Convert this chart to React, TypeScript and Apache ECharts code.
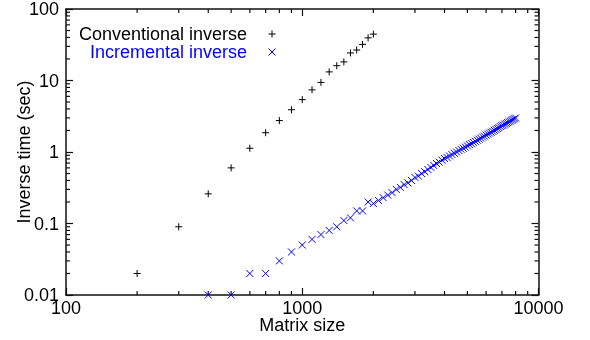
import React, { useEffect, useRef } from "react";
import * as echarts from "echarts";

const convSizes = [200, 300, 400, 500, 600, 700, 800, 900, 1000, 1100, 1200, 1300, 1400, 1500, 1600, 1700, 1800, 1900, 2000];
const convTimes = [0.02, 0.09, 0.26, 0.6, 1.13, 1.86, 2.75, 3.9, 5.4, 7.4, 9.4, 13.2, 16.1, 18.2, 24.3, 26.7, 32, 39.5, 44.5];

const incSizes = [
  400, 500, 600, 700, 800, 900, 1000, 1100, 1200, 1300, 1400, 1500, 1600, 1700, 1800, 1900,
  2000, 2100, 2200, 2300, 2400, 2500, 2600, 2700, 2800, 2900,
  3000, 3100, 3200, 3300, 3400, 3500, 3600, 3700, 3800, 3900,
  4000, 4100, 4200, 4300, 4400, 4500, 4600, 4700, 4800, 4900,
  5000, 5100, 5200, 5300, 5400, 5500, 5600, 5700, 5800, 5900,
  6000, 6100, 6200, 6300, 6400, 6500, 6600, 6700, 6800, 6900,
  7000, 7100, 7200, 7300, 7400, 7500, 7600, 7700, 7800, 7900, 8000,
];
const incTimes = [
  0.01, 0.01, 0.02, 0.02, 0.03, 0.04, 0.05, 0.06, 0.07, 0.08, 0.09, 0.11, 0.12, 0.15, 0.15, 0.2,
  0.19, 0.21, 0.23, 0.25, 0.27, 0.3, 0.32, 0.35, 0.37, 0.4,
  0.44, 0.46, 0.5, 0.53, 0.57, 0.61, 0.65, 0.69, 0.72, 0.77,
  0.81, 0.84, 0.88, 0.92, 0.96, 1.0, 1.05, 1.09, 1.13, 1.17,
  1.22, 1.27, 1.31, 1.36, 1.41, 1.46, 1.51, 1.56, 1.62, 1.67,
  1.73, 1.78, 1.84, 1.89, 1.95, 2.01, 2.07, 2.13, 2.19, 2.26,
  2.33, 2.38, 2.45, 2.51, 2.58, 2.65, 2.71, 2.78, 2.85, 2.92, 2.99,
];

const xMinorTicks = [200, 300, 400, 500, 600, 700, 800, 900, 2000, 3000, 4000, 5000, 6000, 7000, 8000, 9000];
const yMinorTicks = [
  0.02, 0.03, 0.04, 0.05, 0.06, 0.07, 0.08, 0.09,
  0.2, 0.3, 0.4, 0.5, 0.6, 0.7, 0.8, 0.9,
  2, 3, 4, 5, 6, 7, 8, 9,
  20, 30, 40, 50, 60, 70, 80, 90,
];

const X_MIN = 100, X_MAX = 10000, Y_MIN = 0.01, Y_MAX = 100;
const FONT = "Liberation Sans, Arial, sans-serif";
const FS = 18;
const BLUE = "#0000ff";
const INK = "#111111";

const fmt = (v: number) => String(parseFloat(Number(v).toPrecision(6)));

export default function App() {
  const ref = useRef<HTMLDivElement>(null);
  useEffect(() => {
    if (!ref.current) return;
    const chart = echarts.init(ref.current, undefined, { renderer: "svg" });
    const lineBase = { show: true, onZero: false, lineStyle: { color: INK, width: 1.5, type: "solid", opacity: 1 } };
    const tickBase = { show: true, inside: true, length: 7, lineStyle: { color: INK, width: 1.2, type: "solid", opacity: 1 } };
    const tickData: number[][] = [
      ...xMinorTicks.map((v) => [v, 1, 1]),
      ...yMinorTicks.map((v) => [1000, v, 0]),
    ];
    const option: any = {
      animation: false,
      textStyle: { fontFamily: FONT },
      grid: { left: 66, right: 51.5, top: 9, bottom: 45, containLabel: false },
      legend: {
        orient: "vertical",
        align: "right",
        right: 309,
        top: 20,
        itemGap: 0,
        itemWidth: 40,
        itemHeight: 7,
        itemStyle: { borderWidth: 1 },
        textStyle: { fontSize: FS, fontFamily: FONT, color: "#000" },
        data: [
          { name: "Conventional inverse", textStyle: { color: "#000" } },
          { name: "Incremental inverse", textStyle: { color: BLUE } },
        ],
      },
      xAxis: [
        {
          type: "log", logBase: 10, min: X_MIN, max: X_MAX, position: "bottom",
          axisLine: lineBase, splitLine: { show: false }, axisTick: tickBase,
          axisLabel: { show: true, color: "#000", fontSize: FS, fontFamily: FONT, margin: 4, formatter: fmt },
          name: "Matrix size", nameLocation: "middle", nameGap: 21, nameMoveOverlap: false,
          nameTextStyle: { color: "#000", fontSize: FS, fontFamily: FONT },
        },
        {
          type: "log", logBase: 10, min: X_MIN, max: X_MAX, position: "top",
          axisLine: lineBase, splitLine: { show: false }, axisTick: tickBase,
          axisLabel: { show: false },
        },
      ],
      yAxis: [
        {
          type: "log", logBase: 10, min: Y_MIN, max: Y_MAX, position: "left",
          axisLine: lineBase, splitLine: { show: false }, axisTick: tickBase,
          axisLabel: { show: true, color: "#000", fontSize: FS, fontFamily: FONT, margin: 7, formatter: fmt },
          name: "Inverse time (sec)", nameLocation: "middle", nameGap: 33, nameRotate: 90, nameMoveOverlap: false,
          nameTextStyle: { color: "#000", fontSize: FS, fontFamily: FONT },
        },
        {
          type: "log", logBase: 10, min: Y_MIN, max: Y_MAX, position: "right",
          axisLine: lineBase, splitLine: { show: false }, axisTick: tickBase,
          axisLabel: { show: false },
        },
      ],
      series: [
        {
          name: "minorTicks",
          type: "custom",
          coordinateSystem: "cartesian2d",
          xAxisIndex: 0, yAxisIndex: 0,
          silent: true,
          clip: false,
          z: 3,
          encode: { x: 0, y: 1 },
          data: tickData,
          renderItem: (params: any, api: any) => {
            const isX = api.value(2) === 1;
            const len = 4;
            const st = { stroke: INK, lineWidth: 1.2, fill: null };
            if (isX) {
              const v = api.value(0);
              const b = api.coord([v, Y_MIN]);
              const t = api.coord([v, Y_MAX]);
              return {
                type: "group",
                children: [
                  { type: "line", shape: { x1: b[0], y1: b[1], x2: b[0], y2: b[1] - len }, style: st },
                  { type: "line", shape: { x1: t[0], y1: t[1], x2: t[0], y2: t[1] + len }, style: st },
                ],
              };
            }
            const v = api.value(1);
            const l = api.coord([X_MIN, v]);
            const r = api.coord([X_MAX, v]);
            return {
              type: "group",
              children: [
                { type: "line", shape: { x1: l[0], y1: l[1], x2: l[0] + len, y2: l[1] }, style: st },
                { type: "line", shape: { x1: r[0], y1: r[1], x2: r[0] - len, y2: r[1] }, style: st },
              ],
            };
          },
        },
        {
          name: "Conventional inverse",
          type: "scatter",
          xAxisIndex: 0, yAxisIndex: 0,
          symbol: "path://M0,5L10,5M5,0L5,10",
          symbolSize: 7,
          itemStyle: { color: "#000", borderColor: "#000", borderWidth: 1, opacity: 1 },
          data: convSizes.map((s, i) => [s, convTimes[i]]),
          z: 5,
        },
        {
          name: "Incremental inverse",
          type: "scatter",
          xAxisIndex: 0, yAxisIndex: 0,
          symbol: "path://M0,0L10,10M0,10L10,0",
          symbolSize: 7,
          itemStyle: { color: BLUE, borderColor: BLUE, borderWidth: 1, opacity: 1 },
          data: incSizes.map((s, i) => [s, incTimes[i]]),
          z: 5,
        },
      ],
    };
    chart.setOption(option);
    return () => chart.dispose();
  }, []);
  return (
    <div
      ref={ref}
      style={{ position: "fixed", left: 0, top: 0, width: 590, height: 340 }}
    />
  );
}
